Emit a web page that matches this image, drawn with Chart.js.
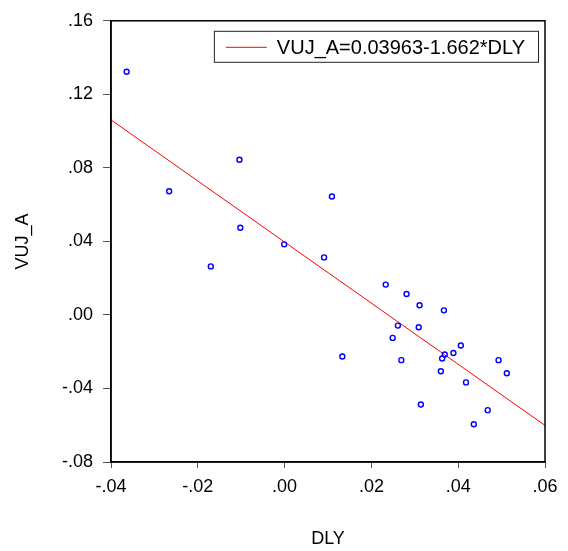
<!DOCTYPE html>
<html>
<head>
<meta charset="utf-8">
<script src="https://cdn.jsdelivr.net/npm/chart.js@4/dist/chart.umd.min.js"></script>
<style>
  html, body { margin: 0; padding: 0; background: #fff; }
  #wrap { width: 568px; height: 551px; }
</style>
</head>
<body>
<div id="wrap"><canvas id="myChart"></canvas></div>
<script>
// scatter points
const dly = [-0.0364, -0.0266, -0.0104, -0.0102, -0.0001, 0.0109, 0.0091, -0.0170,
  0.0233, 0.0281, 0.0311, 0.0367, 0.0261, 0.0309, 0.0249, 0.0133, 0.0269, 0.0406,
  0.0389, 0.0369, 0.0363, 0.0360, 0.0493, 0.0512, 0.0418, 0.0468, 0.0314, 0.0436];
const vujA = [0.1323, 0.0673, 0.0844, 0.0474, 0.0384, 0.0644, 0.0313, 0.0264,
  0.0165, 0.0114, 0.0053, 0.0025, -0.0058, -0.0067, -0.0125, -0.0226, -0.0246, -0.0166,
  -0.0207, -0.0215, -0.0237, -0.0306, -0.0246, -0.0317, -0.0367, -0.0518, -0.0487, -0.0595];

// fitted line
const intercept = 0.03963;
const slope = -1.662;
const xRange = [-0.04, 0.06];
const yRange = [-0.08, 0.16];
const fitLabel = 'VUJ_A=0.03963-1.662*DLY';

const points = dly.map((x, i) => ({ x: x, y: vujA[i] }));
const fitLine = xRange.map(x => ({ x: x, y: intercept + slope * x }));

const fontFam = '"Liberation Sans", Arial, sans-serif';
const fmt = v => Number(v).toFixed(2).replace('0.', '.');

// box around the plot + the boxed legend in the top right corner
const framePlugin = {
  id: 'frame',
  afterDraw(chart) {
    const ctx = chart.ctx;
    const a = chart.chartArea;
    ctx.save();
    ctx.strokeStyle = '#000';
    ctx.lineWidth = 1.5;
    ctx.strokeRect(a.left, a.top, a.right - a.left, a.bottom - a.top);

    // legend
    ctx.font = '20px ' + fontFam;
    const tw = ctx.measureText(fitLabel).width;
    const boxW = tw + 76, boxH = 31;
    const bx = a.right - 7 - boxW, by = a.top + 10;
    ctx.fillStyle = '#fff';
    ctx.fillRect(bx, by, boxW, boxH);
    ctx.lineWidth = 1;
    ctx.strokeStyle = '#222';
    ctx.strokeRect(bx + 0.5, by + 0.5, boxW, boxH);
    const my = by + boxH / 2 + 1;
    ctx.strokeStyle = '#ff0000';
    ctx.beginPath();
    ctx.moveTo(bx + 12, my);
    ctx.lineTo(bx + 53, my);
    ctx.stroke();
    ctx.fillStyle = '#000';
    ctx.textBaseline = 'middle';
    ctx.fillText(fitLabel, bx + 63, my + 1);
    ctx.restore();
  }
};

const ctx = document.getElementById('myChart');
new Chart(ctx, {
  type: 'scatter',
  data: {
    datasets: [
      {
        label: 'points',
        data: points,
        pointRadius: 2.5,
        pointBorderWidth: 1.4,
        borderColor: '#0000ff',
        backgroundColor: 'rgba(0,0,0,0)',
        pointStyle: 'circle'
      },
      {
        type: 'line',
        label: fitLabel,
        data: fitLine,
        borderColor: '#ff0000',
        backgroundColor: '#ff0000',
        borderWidth: 1,
        pointRadius: 0,
        fill: false
      }
    ]
  },
  options: {
    responsive: true,
    maintainAspectRatio: false,
    animation: false,
    layout: { padding: { top: 20, right: 23, left: 0, bottom: 0 } },
    scales: {
      x: {
        type: 'linear',
        min: xRange[0],
        max: xRange[1],
        ticks: {
          stepSize: 0.02,
          color: '#000',
          padding: 8,
          font: { family: fontFam, size: 18 },
          callback: v => fmt(v),
          maxRotation: 0
        },
        grid: { drawOnChartArea: false, drawTicks: true, tickLength: 6, color: '#555' },
        border: { color: '#000', width: 1.5 },
        title: {
          display: true,
          text: 'DLY',
          color: '#000',
          font: { family: fontFam, size: 18 },
          padding: { top: 0, bottom: 1 }
        },
        afterFit(scale) { scale.height = 89; }
      },
      y: {
        type: 'linear',
        min: yRange[0],
        max: yRange[1],
        ticks: {
          stepSize: 0.04,
          color: '#000',
          padding: 10,
          font: { family: fontFam, size: 18 },
          callback: v => fmt(v)
        },
        grid: { drawOnChartArea: false, drawTicks: true, tickLength: 8, color: '#555' },
        border: { color: '#000', width: 1.5 },
        title: {
          display: true,
          text: 'VUJ_A',
          color: '#000',
          font: { family: fontFam, size: 18 },
          padding: { top: 12, bottom: 0 }
        },
        afterFit(scale) { scale.width = 111; }
      }
    },
    plugins: {
      legend: { display: false },
      tooltip: { enabled: false }
    }
  },
  plugins: [framePlugin]
});
</script>
</body>
</html>
